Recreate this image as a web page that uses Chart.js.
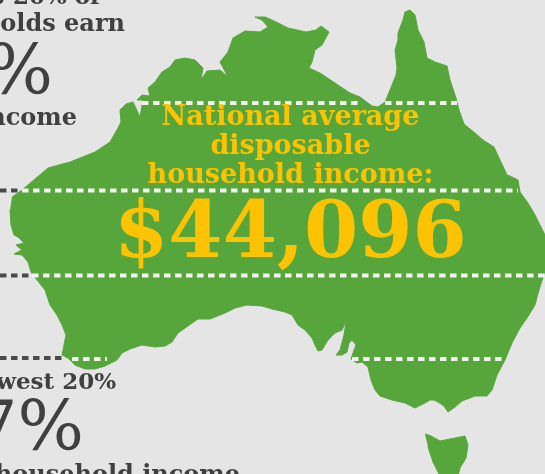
<!DOCTYPE html>
<html>
<head>
<meta charset="utf-8">
<title>National average disposable household income</title>
<script src="https://cdn.jsdelivr.net/npm/chart.js@4"></script>
<style>
    html, body { margin: 0; padding: 0; background: #e5e5e5; }
    #stage { position: relative; width: 545px; height: 474px; overflow: hidden; background: #e5e5e5; }
    #map { position: absolute; left: 0; top: 0; filter: blur(0.5px); }
    .label { position: absolute; white-space: nowrap; font-family: "DejaVu Serif", serif; font-weight: bold; filter: blur(0.4px); }
    .dark { color: #404040; }
    .gold { color: #fdc300; text-align: center; left: 0; width: 581px; }
</style>
</head>
<body>
<div id="stage">
    <canvas id="map" width="545" height="474"></canvas>
    <div class="label dark" style="right:445px; top:-18px; font-size:23px;">top 20% of</div>
    <div class="label dark" style="right:420px; top:8px; font-size:24px;">households earn</div>
    <div class="label dark" style="right:492px; top:29px; font-size:70px; font-weight:normal;">%</div>
    <div class="label dark" style="right:468px; top:102px; font-size:24px;">income</div>
    <div class="label dark" style="right:429px; top:367px; font-size:23px;">lowest 20%</div>
    <div class="label dark" style="right:461px; top:385px; font-size:70px; font-weight:normal;">7%</div>
    <div class="label dark" style="right:305px; top:459px; font-size:24px;">household income</div>
    <div class="label gold" style="top:100px; font-size:27px;">National average</div>
    <div class="label gold" style="top:129px; font-size:27px;">disposable</div>
    <div class="label gold" style="top:158px; font-size:27px;">household income:</div>
    <div class="label gold" style="top:184px; font-size:78px;">$44,096</div>
</div>

<script>
    const coastX = [12, 22, 48, 70, 95, 110, 118, 121, 120, 126, 133, 140, 143, 137, 142, 150, 148, 155, 162, 170, 175, 185, 195, 203, 201, 207, 220, 228, 220, 228, 233, 245, 260, 268, 262, 255, 265, 272, 288, 306, 316, 321, 329, 322, 315, 312, 309, 320, 335, 350, 360, 372, 378, 385, 390, 396, 397, 395, 398, 398, 403, 405, 410, 415, 418, 424, 427, 435, 447, 450, 456, 459, 464, 475, 483, 494, 500, 507, 510, 518, 520, 528, 535, 545, 548, 548, 544, 539, 535, 527, 520, 512, 505, 497, 492, 487, 475, 462, 455, 448, 444, 438, 434, 430, 425, 415, 405, 392, 380, 375, 371, 368, 362, 357, 351, 354, 356, 352, 349, 347, 342, 336, 340, 344, 346, 342, 335, 328, 322, 318, 315, 312, 305, 298, 292, 285, 272, 262, 247, 235, 225, 210, 198, 185, 178, 172, 165, 155, 142, 130, 122, 117, 105, 95, 85, 75, 68, 62, 64, 66, 62, 57, 50, 45, 37, 31, 28, 22, 14, 22, 16, 24, 18, 14, 11, 10];
    const coastY = [197, 190, 168, 162, 152, 142, 128, 122, 110, 104, 102, 117, 100, 100, 95, 96, 88, 82, 72, 67, 60, 58, 60, 68, 80, 71, 70, 77, 62, 52, 38, 31, 32, 27, 20, 17, 17, 20, 28, 32, 30, 26, 32, 45, 50, 62, 68, 73, 83, 93, 97, 106, 107, 102, 90, 75, 68, 50, 40, 33, 20, 12, 10, 15, 30, 42, 58, 62, 66, 80, 98, 110, 124, 133, 140, 147, 160, 175, 176, 180, 192, 203, 215, 235, 240, 262, 274, 290, 305, 318, 328, 343, 360, 375, 390, 396, 396, 401, 407, 412, 406, 402, 400, 400, 403, 408, 403, 400, 396, 390, 380, 367, 362, 363, 359, 350, 345, 340, 343, 352, 355, 355, 350, 335, 322, 330, 333, 340, 350, 351, 345, 338, 330, 325, 315, 312, 309, 306, 305, 308, 313, 319, 319, 328, 333, 342, 346, 347, 345, 349, 353, 360, 366, 369, 369, 365, 358, 355, 345, 335, 325, 315, 305, 290, 280, 272, 262, 255, 254, 250, 245, 243, 237, 235, 225, 210];

    // Tasmania runs off the bottom edge
    const tasX = [425, 431, 440, 450, 465, 468, 466, 460, 458, 452, 440, 433, 428];
    const tasY = [434, 436, 441, 439, 436, 445, 458, 468, 476, 480, 476, 462, 447];

    // Dotted bands: [from, to, level]
    const whiteDots = [
        [142, 360, 103], [385, 457, 103],
        [22, 518, 190.5],
        [32, 545, 275.5],
        [72, 107, 359], [352, 502, 359]
    ];
    const darkDots = [
        [0, 20, 190.5],
        [0, 30, 275.5],
        [0, 62, 358]
    ];

    const toPoints = (xs, ys) => xs.map((x, i) => ({ x: x, y: ys[i] }));

    const dotted = (seg, color) => ({
        data: [{ x: seg[0], y: seg[2] }, { x: seg[1], y: seg[2] }],
        showLine: true,
        borderColor: color,
        borderWidth: 4,
        borderDash: [6.5, 4.5],
        pointRadius: 0
    });

    const land = (xs, ys) => ({
        data: toPoints(xs, ys),
        showLine: true,
        fill: 'shape',
        backgroundColor: '#57a63c',
        borderColor: '#57a63c',
        borderWidth: 1,
        tension: 0,
        pointRadius: 0
    });

    new Chart(document.getElementById('map').getContext('2d'), {
        type: 'scatter',
        data: {
            datasets: [
                ...whiteDots.map(s => dotted(s, '#f1f4ee')),
                ...darkDots.map(s => dotted(s, '#4a4a4a')),
                land(coastX, coastY),
                land(tasX, tasY)
            ]
        },
        options: {
            responsive: false,
            animation: false,
            layout: { padding: 0 },
            plugins: { legend: { display: false }, tooltip: { enabled: false }, title: { display: false } },
            scales: {
                x: { type: 'linear', min: 0, max: 545, display: false },
                y: { type: 'linear', min: 0, max: 474, reverse: true, display: false }
            }
        }
    });
</script>
</body>
</html>
